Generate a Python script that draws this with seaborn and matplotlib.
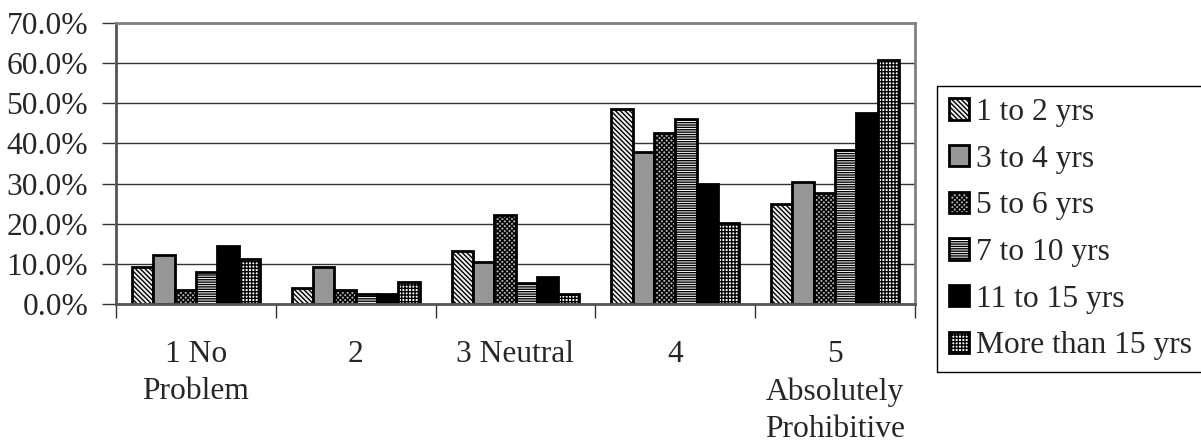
import matplotlib
matplotlib.use("Agg")
import matplotlib.pyplot as plt
import seaborn as sns
import pandas as pd
from matplotlib.ticker import PercentFormatter, FixedLocator

# Survey responses by years of experience (share of respondents, %)
categories = ["1 No\nProblem", "2", "3 Neutral", "4", "5\nAbsolutely\nProhibitive"]
series = ["1 to 2 yrs", "3 to 4 yrs", "5 to 6 yrs", "7 to 10 yrs", "11 to 15 yrs", "More than 15 yrs"]
yrs_1_2 = [9.2, 3.9, 13.2, 48.7, 25.0]
yrs_3_4 = [12.1, 9.2, 10.4, 37.9, 30.4]
yrs_5_6 = [3.6, 3.6, 22.1, 42.7, 27.7]
yrs_7_10 = [7.9, 2.6, 5.3, 46.2, 38.3]
yrs_11_15 = [14.4, 2.4, 6.7, 30.0, 47.5]
yrs_15_plus = [11.3, 5.4, 2.4, 20.2, 60.8]

values = [yrs_1_2, yrs_3_4, yrs_5_6, yrs_7_10, yrs_11_15, yrs_15_plus]
df = pd.DataFrame(
    [(c, s, v) for s, vals in zip(series, values) for c, v in zip(categories, vals)],
    columns=["category", "group", "pct"],
)

sns.set_theme(style="white")
plt.rcParams["font.family"] = ["Liberation Serif", "DejaVu Serif"]
plt.rcParams["hatch.linewidth"] = 1.0
FS = 22.7

faces = ["#f0f0f0", "#969696", "#b0b0b0", "white", "black", "white"]
hatches = ["\\" * 7, None, "x" * 7, "-" * 7, None, "+" * 5]

fig = plt.figure(figsize=(12.01, 4.46), dpi=100)
ax = fig.add_axes([116 / 1201, 1 - 304 / 446, (915 - 116) / 1201, (304 - 23) / 446])

sns.barplot(data=df, x="category", y="pct", hue="group", order=categories,
            hue_order=series, palette=faces, width=0.8, gap=0,
            edgecolor="black", linewidth=2, saturation=1, ax=ax)

for cont, fc, h in zip(ax.containers, faces, hatches):
    for p in cont:
        p.set_facecolor(fc)
        p.set_edgecolor("black")
        p.set_linewidth(2)
        if h:
            p.set_hatch(h)

ax.set_ylim(0, 70)
ax.set_xlim(-0.5, len(categories) - 0.5)
ax.set_yticks(range(0, 71, 10))
ax.yaxis.set_major_formatter(PercentFormatter(decimals=1))
ax.yaxis.grid(True, color="#333333", linewidth=1)
ax.set_axisbelow(True)
ax.set_xlabel("")
ax.set_ylabel("")

ax.xaxis.set_minor_locator(FixedLocator([i - 0.5 for i in range(len(categories) + 1)]))
ax.tick_params(axis="x", which="major", length=0, pad=26, labelsize=FS)
ax.tick_params(axis="x", which="minor", length=10, width=1, direction="out", color="#333333", bottom=True)
ax.tick_params(axis="y", length=10, width=1, direction="out", color="#333333", pad=10, labelsize=FS, left=True)
for lab in ax.get_xticklabels():
    lab.set_verticalalignment("top")
    lab.set_linespacing(1.36)

for side in ["top", "right"]:
    ax.spines[side].set_color("#808080")
    ax.spines[side].set_linewidth(2)
ax.spines["left"].set_color("#555555")
ax.spines["left"].set_linewidth(2)
ax.spines["bottom"].set_color("#555555")
ax.spines["bottom"].set_linewidth(2)

ax.get_legend().remove()
leg = fig.legend(handles=ax.containers, labels=series, loc="upper left",
                 bbox_to_anchor=(937 / 1201, 1 - 86 / 446), frameon=True,
                 fancybox=False, edgecolor="black", framealpha=1, fontsize=FS,
                 handlelength=0.62, handleheight=0.66, handletextpad=0.25,
                 labelspacing=0.56, borderpad=0.38, borderaxespad=0)
leg.get_frame().set_linewidth(1)

fig.savefig("out.png", dpi=100)
